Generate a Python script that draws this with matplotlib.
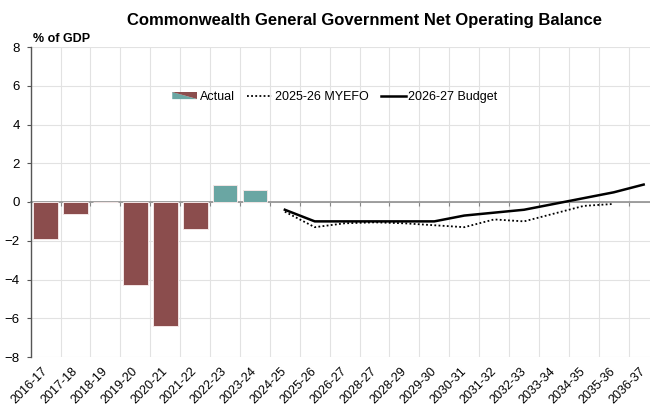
import numpy as np
import matplotlib
matplotlib.use("Agg")
import matplotlib.pyplot as plt
from matplotlib.patches import Polygon
from matplotlib.lines import Line2D
from matplotlib.legend_handler import HandlerBase

plt.rcParams['font.family'] = ['Liberation Sans', 'DejaVu Sans']

years = ["2016-17", "2017-18", "2018-19", "2019-20", "2020-21", "2021-22",
         "2022-23", "2023-24", "2024-25", "2025-26", "2026-27", "2028-27",
         "2028-29", "2029-30", "2030-31", "2031-32", "2032-33", "2033-34",
         "2034-35", "2035-36", "2036-37"]

# outcomes, % of GDP
actual = [-1.9, -0.6, 0.0, -4.3, -6.4, -1.4, 0.9, 0.6]

# projections start at 2024-25
myefo = [-0.5, -1.3, -1.1, -1.05, -1.1, -1.2, -1.3, -0.9, -1.0, -0.6, -0.2, -0.1]
budget = [-0.4, -1.0, -1.0, -1.0, -1.0, -1.0, -0.7, -0.55, -0.4, -0.1, 0.2, 0.5, 0.9]

RED = '#8b4d4d'
TEAL = '#6aa6a3'


class SplitPatchHandler(HandlerBase):
    def create_artists(self, legend, orig_handle, xdescent, ydescent,
                       width, height, fontsize, trans):
        x0, y0 = -xdescent, -ydescent
        lo = Polygon([[x0, y0], [x0 + width, y0], [x0, y0 + height]],
                     closed=True, facecolor=TEAL, edgecolor='none', transform=trans)
        hi = Polygon([[x0 + width, y0], [x0 + width, y0 + height], [x0, y0 + height]],
                     closed=True, facecolor=RED, edgecolor='none', transform=trans)
        return [lo, hi]


fig = plt.figure(figsize=(6.5, 4.2), dpi=100)
ax = fig.add_axes([30.7 / 650, 63 / 420, 619.3 / 650, 310 / 420])

x = np.arange(len(years))
xa = x[:len(actual)]
bar_cols = [TEAL if v > 0 else RED for v in actual]
ax.bar(xa, actual, width=0.83, color=bar_cols, edgecolor='#f3e6e6', linewidth=0.7, zorder=3)

xp = x[8:8 + len(myefo)]
ax.plot(xp, myefo, color='black', lw=1.3, ls=(0, (1, 1.3)), zorder=4)
xb = x[8:8 + len(budget)]
ax.plot(xb, budget, color='black', lw=1.8, zorder=5)

ax.set_xlim(-0.5, -0.5 + 619.3 / 29.9)
ax.set_ylim(-8, 8)
ax.set_yticks(np.arange(-8, 9, 2))
ax.tick_params(axis='y', length=3, width=0.8, color='#555555', labelsize=9.5, pad=5)
ax.grid(axis='y', color='#e2e2e2', lw=0.8, zorder=0)

# category boundaries carry the vertical grid and the small ticks on the zero line
ax.set_xticks(x - 0.5, minor=True)
ax.set_xticks([])
ax.grid(axis='x', which='minor', color='#e2e2e2', lw=0.8, zorder=0)
ax.tick_params(axis='x', which='minor', direction='out', length=3, width=0.8,
               color='#888888', labelbottom=False)
ax.spines['bottom'].set_position(('data', 0))
ax.spines['bottom'].set_color('#909090')
ax.spines['bottom'].set_linewidth(1.2)
ax.spines['bottom'].set_zorder(2)
ax.spines['left'].set_color('#555555')
ax.spines['left'].set_linewidth(1.0)
for s in ['top', 'right']:
    ax.spines[s].set_visible(False)

sec = ax.secondary_xaxis(0.0)
sec.set_xticks(x)
sec.set_xticklabels(years, rotation=45, ha='right', va='center',
                    rotation_mode='anchor', fontsize=9)
sec.tick_params(length=0, pad=9)
sec.spines['bottom'].set_visible(False)

fig.text(364 / 650, 1 - 20 / 420, "Commonwealth General Government Net Operating Balance",
         ha='center', va='center', fontsize=12, fontweight='bold')
fig.text(33 / 650, 1 - 39 / 420, "% of GDP", ha='left', va='center',
         fontsize=9, fontweight='bold')

handles = [Polygon([[0, 0]]),
           Line2D([], [], color='black', lw=1.3, ls=(0, (1, 1.3))),
           Line2D([], [], color='black', lw=1.8)]
labels = ["Actual", "2025-26 MYEFO", "2026-27 Budget"]
ax.legend(handles, labels, handler_map={Polygon: SplitPatchHandler()},
          loc='center', bbox_to_anchor=(335 / 650, 1 - 97 / 420),
          bbox_transform=fig.transFigure, ncol=3, frameon=False, fontsize=9,
          handlelength=2.0, handletextpad=0.2, columnspacing=1.0, handleheight=0.5)

fig.savefig("out.png", dpi=100)
